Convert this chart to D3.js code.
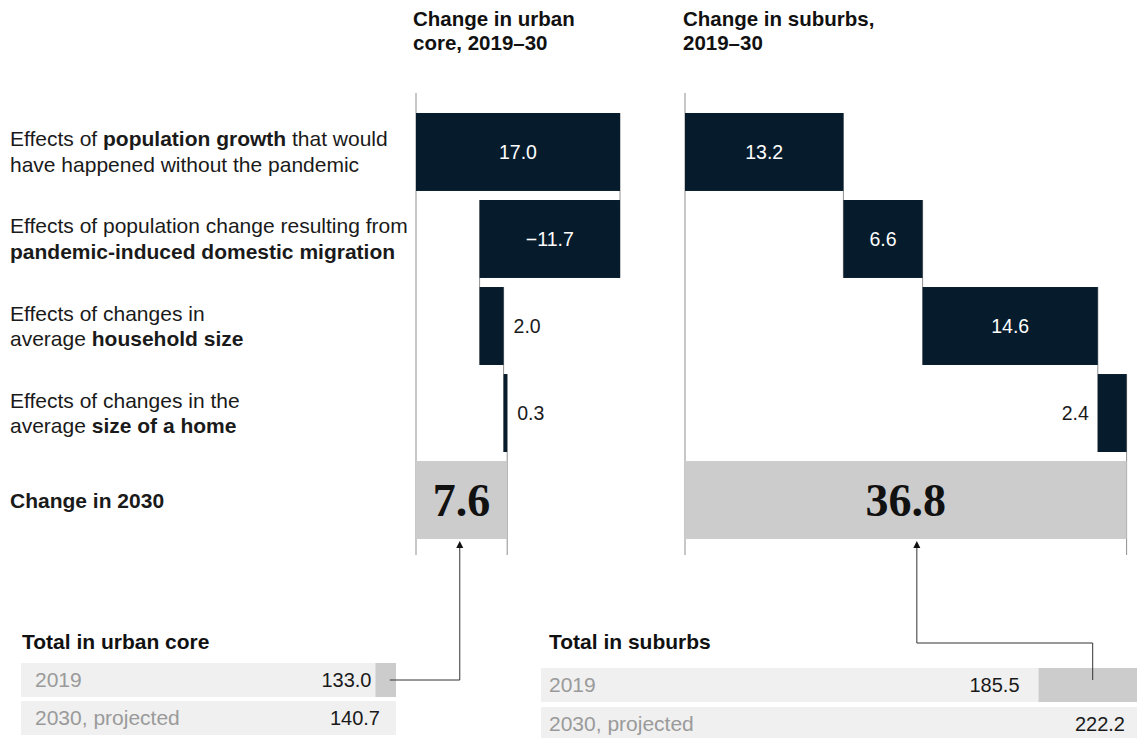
<!DOCTYPE html>
<html><head><meta charset="utf-8">
<script src="https://cdn.jsdelivr.net/npm/d3@7"></script>
<style>
body{margin:0;background:#fff}
svg text{font-family:"Liberation Sans",Arial,Helvetica,sans-serif}
svg text.serif{font-family:"Liberation Serif","Times New Roman",serif}
</style>
</head><body>
<svg id="chart" width="1137" height="738"></svg>
<script>
// ---------- data ----------
const rowKeys = ["growth", "migration", "household", "home", "total"];
const rowLabels = [
  [[["Effects of ", 0], ["population growth", 1], [" that would", 0]], [["have happened without the pandemic", 0]]],
  [[["Effects of population change resulting from", 0]], [["pandemic-induced domestic migration", 1]]],
  [[["Effects of changes in", 0]], [["average ", 0], ["household size", 1]]],
  [[["Effects of changes in the", 0]], [["average ", 0], ["size of a home", 1]]],
  [[["Change in 2030", 1]]]
];
const panelTitles = [["Change in urban", "core, 2019–30"], ["Change in suburbs,", "2019–30"]];
const urbanCoreChange = [17.0, -11.7, 2.0, 0.3];
const suburbsChange = [13.2, 6.6, 14.6, 2.4];
const urbanCoreTotal = 7.6;
const suburbsTotal = 36.8;
const totalRowLabels = ["2019", "2030, projected"];
const urbanCoreTotals = [133.0, 140.7];
const suburbsTotals = [185.5, 222.2];
const tableTitles = ["Total in urban core", "Total in suburbs"];

// ---------- layout ----------
const W = 1137, H = 738;
const NAVY = "#061c2c", GREY = "#cccccc", LIGHT = "#f0f0f0", LINE = "#8f8f8f";
const svg = d3.select("#chart");
const fmt = d3.format(".1f");

const y = d3.scaleBand().domain(rowKeys).range([113, 539]).paddingInner(0.104).paddingOuter(0);
const axisTop = 93, axisBottom = 555;

// row labels
const lab = svg.append("g");
rowLabels.forEach((lines, i) => {
  const c = y(rowKeys[i]) + y.bandwidth() / 2;
  const offs = lines.length === 2 ? [-5.5, 20] : [8];
  lines.forEach((segs, j) => {
    const t = lab.append("text").attr("x", 10).attr("y", c + offs[j])
      .attr("font-size", 21).attr("fill", "#1a1a1a");
    segs.forEach(([s, b]) => t.append("tspan").text(s).attr("font-weight", b ? 700 : 400));
  });
});

const panels = [
  { changes: urbanCoreChange, total: urbanCoreTotal, x0: 416, titleX: 413, arrowFrac: 0.48,
    totals: urbanCoreTotals, tRange: [21, 396], tTitleX: 22, tTextX: 35, tRowY: [663, 701],
    pad2019: 4, pad2030: 16, arrowStartFrac: 0.7, title: tableTitles[0] },
  { changes: suburbsChange, total: suburbsTotal, x0: 685, titleX: 683, arrowFrac: 0.525,
    totals: suburbsTotals, tRange: [541, 1137], tTitleX: 549, tTextX: 549, tRowY: [668, 707],
    pad2019: 19, pad2030: 12, arrowStartFrac: 0.55, title: tableTitles[1] }
];

const unit = 12; // px per unit
panels.forEach((p, pi) => {
  const x = d3.scaleLinear().domain([0, suburbsTotal]).range([p.x0, p.x0 + suburbsTotal * unit]);
  const g = svg.append("g");

  // titles
  panelTitles[pi].forEach((t, j) => g.append("text").attr("x", p.titleX).attr("y", 26 + j * 24)
    .attr("font-size", 20.5).attr("font-weight", 700).attr("fill", "#111").text(t));

  // steps
  let cum = 0;
  const steps = p.changes.map((v, i) => { const s = { v, a: cum, b: cum + v, key: rowKeys[i] }; cum += v; return s; });

  // connectors
  steps.forEach((s, i) => {
    const yTop = y(s.key);
    const yBot = i < steps.length - 1 ? y(steps[i + 1].key) + y.bandwidth() : axisBottom;
    g.append("line").attr("x1", x(s.b)).attr("x2", x(s.b)).attr("y1", yTop).attr("y2", yBot)
      .attr("stroke", LINE).attr("stroke-width", 1);
  });
  // axis
  g.append("line").attr("x1", x(0)).attr("x2", x(0)).attr("y1", axisTop).attr("y2", axisBottom)
    .attr("stroke", LINE).attr("stroke-width", 1);

  // total bar
  g.append("rect").attr("x", x(0)).attr("y", y("total")).attr("width", x(p.total) - x(0))
    .attr("height", y.bandwidth()).attr("fill", GREY);
  g.append("text").attr("class", "serif").attr("x", (x(0) + x(p.total)) / 2).attr("y", y("total") + y.bandwidth() / 2)
    .attr("dy", "0.34em").attr("text-anchor", "middle").attr("font-weight", 700)
    .attr("font-size", 46).attr("fill", "#111").text(fmt(p.total));

  // step bars
  steps.forEach(s => {
    const x1 = Math.min(x(s.a), x(s.b)), x2 = Math.max(x(s.a), x(s.b));
    g.append("rect").attr("x", x1).attr("y", y(s.key)).attr("width", x2 - x1)
      .attr("height", y.bandwidth()).attr("fill", NAVY);
    const inside = x2 - x1 > 45;
    const t = g.append("text").attr("y", y(s.key) + y.bandwidth() / 2).attr("dy", "0.35em")
      .attr("font-size", 19.5).text(fmt(s.v));
    if (inside) t.attr("x", (x1 + x2) / 2).attr("text-anchor", "middle").attr("fill", "#fff");
    else if (x2 + 60 < W) t.attr("x", x2 + 10).attr("fill", "#1a1a1a");
    else t.attr("x", x1 - 9).attr("text-anchor", "end").attr("fill", "#1a1a1a");
  });

  // ---------- totals table ----------
  const tx = d3.scaleLinear().domain([0, p.totals[1]]).range(p.tRange);
  const rowH = 34;
  g.append("text").attr("x", p.tTitleX).attr("y", 649).attr("font-size", 21).attr("font-weight", 700)
    .attr("fill", "#111").text(p.title);
  p.totals.forEach((v, i) => {
    const ry = p.tRowY[i];
    g.append("rect").attr("x", tx(0)).attr("y", ry).attr("width", tx(p.totals[1]) - tx(0))
      .attr("height", rowH).attr("fill", LIGHT);
    if (i === 0) g.append("rect").attr("x", tx(v)).attr("y", ry).attr("width", tx(p.totals[1]) - tx(v))
      .attr("height", rowH).attr("fill", GREY);
    g.append("text").attr("x", p.tTextX).attr("y", ry + rowH / 2).attr("dy", "0.35em")
      .attr("font-size", 21).attr("fill", "#9a9a9a").text(totalRowLabels[i]);
    const endX = i === 0 ? tx(v) - p.pad2019 : tx(v) - p.pad2030;
    g.append("text").attr("x", endX).attr("y", ry + rowH / 2).attr("dy", "0.35em").attr("text-anchor", "end")
      .attr("font-size", 20).attr("fill", "#1a1a1a").text(fmt(v));
  });

  // arrow connector
  const ax = x(p.total * p.arrowFrac);
  const sx = tx(p.totals[0]) + (tx(p.totals[1]) - tx(p.totals[0])) * p.arrowStartFrac;
  const rc = p.tRowY[0] + rowH / 2;
  const tipY = y("total") + y.bandwidth() + 2;
  let path;
  if (pi === 0) path = `M${sx},${rc}H${ax}V${tipY + 6}`;
  else path = `M${sx},${rc - 5}V643H${ax}V${tipY + 6}`;
  g.append("path").attr("d", path).attr("fill", "none").attr("stroke", "#333").attr("stroke-width", 1);
  g.append("path").attr("d", `M${ax - 3.5},${tipY + 7}L${ax},${tipY}L${ax + 3.5},${tipY + 7}Z`).attr("fill", "#111");
});
</script>
</body></html>
